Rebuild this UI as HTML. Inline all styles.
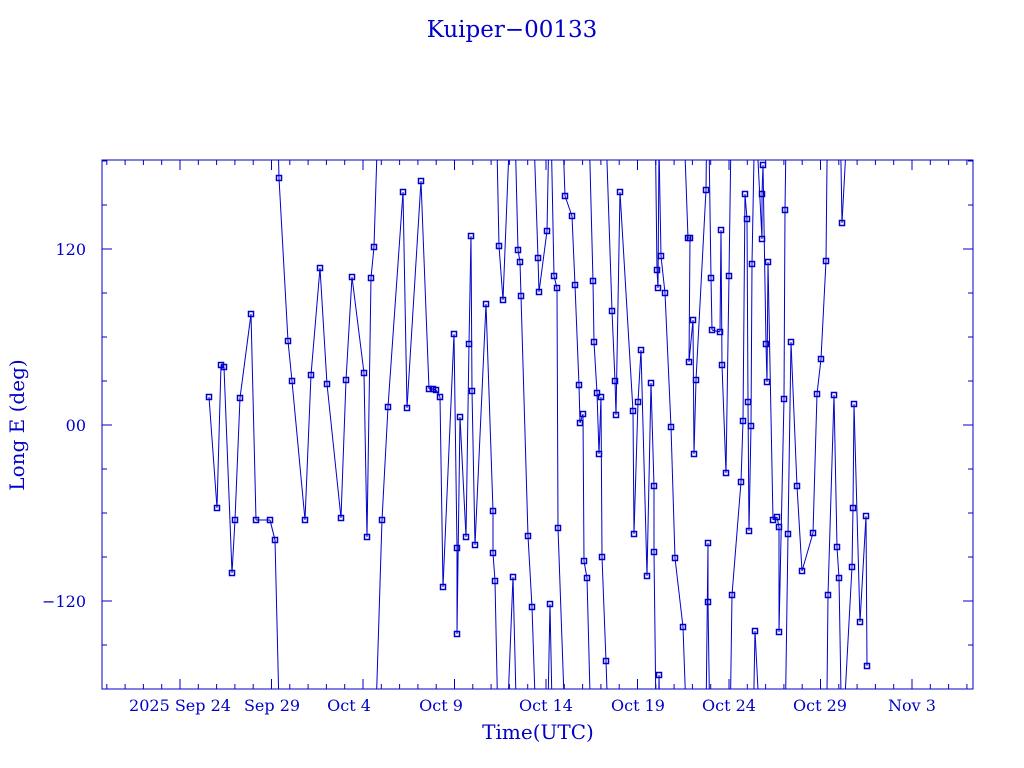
<!DOCTYPE html>
<html><head><meta charset="utf-8"><style>
html,body{margin:0;padding:0;background:#fff;width:1024px;height:768px;overflow:hidden}
svg{display:block;position:absolute;left:0;top:0}
text{font-family:"DejaVu Serif","Liberation Serif",serif;fill:#0000c8}
</style></head><body>
<svg id="s" width="1024" height="768" xmlns="http://www.w3.org/2000/svg">
<defs><clipPath id="c"><rect x="102" y="160" width="871" height="529"/></clipPath></defs>
<text x="512" y="37" font-size="23" text-anchor="middle">Kuiper−00133</text>
<text x="538" y="739" font-size="20" text-anchor="middle">Time(UTC)</text>
<text transform="translate(24,425) rotate(-90)" font-size="20" text-anchor="middle">Long E (deg)</text>
<text x="86" y="255" font-size="16" text-anchor="end">120</text>
<text x="86" y="431" font-size="16" text-anchor="end">00</text>
<text x="86" y="607" font-size="16" text-anchor="end">−120</text>
<text x="180" y="711" font-size="16" text-anchor="middle">2025 Sep 24</text>
<text x="272" y="711" font-size="16" text-anchor="middle">Sep 29</text>
<text x="349" y="711" font-size="16" text-anchor="middle">Oct  4</text>
<text x="441" y="711" font-size="16" text-anchor="middle">Oct  9</text>
<text x="546" y="711" font-size="16" text-anchor="middle">Oct 14</text>
<text x="638" y="711" font-size="16" text-anchor="middle">Oct 19</text>
<text x="729" y="711" font-size="16" text-anchor="middle">Oct 24</text>
<text x="820" y="711" font-size="16" text-anchor="middle">Oct 29</text>
<text x="912" y="711" font-size="16" text-anchor="middle">Nov  3</text>
<rect x="102" y="160" width="871" height="529" fill="none" stroke="#0000c8" stroke-width="1"/>
<g id="ax" stroke="#0000c8" stroke-width="1"></g>
<g id="dat" clip-path="url(#c)" fill="none" stroke="#0000c8" stroke-width="1"></g>
</svg>
<script>
var NS="http://www.w3.org/2000/svg";
function el(p,n,a){var e=document.createElementNS(NS,n);for(var k in a)e.setAttribute(k,a[k]);p.appendChild(e);return e;}
var ax=document.getElementById('ax');
for(var d=-4;d<=43;d++){var x=180+d*18.3;var L=(d%5==0)?10:5;
el(ax,'line',{x1:x,y1:160,x2:x,y2:160+L});el(ax,'line',{x1:x,y1:689,x2:x,y2:689-L});}
for(var v=-180;v<=180;v+=30){var y=425-v*176/120;var L=(v%120==0)?10:5;if(y<=160||y>=689)continue;
el(ax,'line',{x1:102,y1:y,x2:102+L,y2:y});el(ax,'line',{x1:973,y1:y,x2:973-L,y2:y});}
var P=[[209,397],[217,508],[221,365],[224,367],[232,573],[235,520],[240,398],[251,314],[256,520],[270,520],[275,540],[279,178],[288,341],[292,381],[305,520],[311,375],[320,268],[327,384],[341,518],[346,380],[352,277],[364,373],[367,537],[371,278],[374,247],[382,520],[388,407],[403,192],[407,408],[421,181],[429,389],[433,389],[436,390],[440,397],[443,587],[454,334],[457,548],[457,634],[460,417],[466,537],[469,344],[471,236],[472,391],[475,545],[486,304],[493,511],[493,553],[495,581],[499,246],[503,300],[513,577],[518,250],[520,262],[521,296],[528,536],[532,607],[538,258],[539,292],[547,231],[550,604],[554,276],[557,288],[558,528],[565,196],[572,216],[575,285],[579,385],[580,423],[583,414],[584,561],[587,578],[593,281],[594,342],[597,393],[599,454],[601,397],[602,557],[606,661],[612,311],[615,381],[616,415],[620,192],[633,411],[634,534],[638,402],[641,350],[647,576],[651,383],[654,486],[654,552],[657,270],[658,288],[659,675],[661,256],[665,293],[671,427],[675,558],[683,627],[688,238],[690,238],[689,362],[693,320],[694,454],[696,380],[706,190],[708,543],[708,602],[711,278],[712,330],[720,332],[721,230],[722,365],[726,473],[729,276],[732,595],[741,482],[743,421],[745,194],[747,219],[748,402],[749,531],[751,426],[752,264],[755,631],[762,239],[762,194],[763,165],[766,344],[767,382],[768,262],[773,520],[777,517],[779,527],[779,632],[784,399],[785,210],[788,534],[791,342],[797,486],[802,571],[813,533],[817,394],[821,359],[826,261],[828,595],[834,395],[837,547],[839,578],[842,223],[852,567],[853,508],[854,404],[860,622],[866,516],[867,666]];
var g=document.getElementById('dat');var H=529;
for(var i=0;i<P.length;i++){var p=P[i];
el(g,'rect',{x:p[0]-2.5,y:p[1]-2.5,width:5,height:5,'stroke-width':1.5});
if(i>0){var q=P[i-1];var dy=p[1]-q[1];
if(Math.abs(dy)<=H/2){el(g,'line',{x1:q[0],y1:q[1],x2:p[0],y2:p[1]});}
else{var s=dy>0?-H:H;el(g,'line',{x1:q[0],y1:q[1],x2:p[0],y2:p[1]+s});el(g,'line',{x1:q[0],y1:q[1]-s,x2:p[0],y2:p[1]});}}}
</script>
</body></html>
